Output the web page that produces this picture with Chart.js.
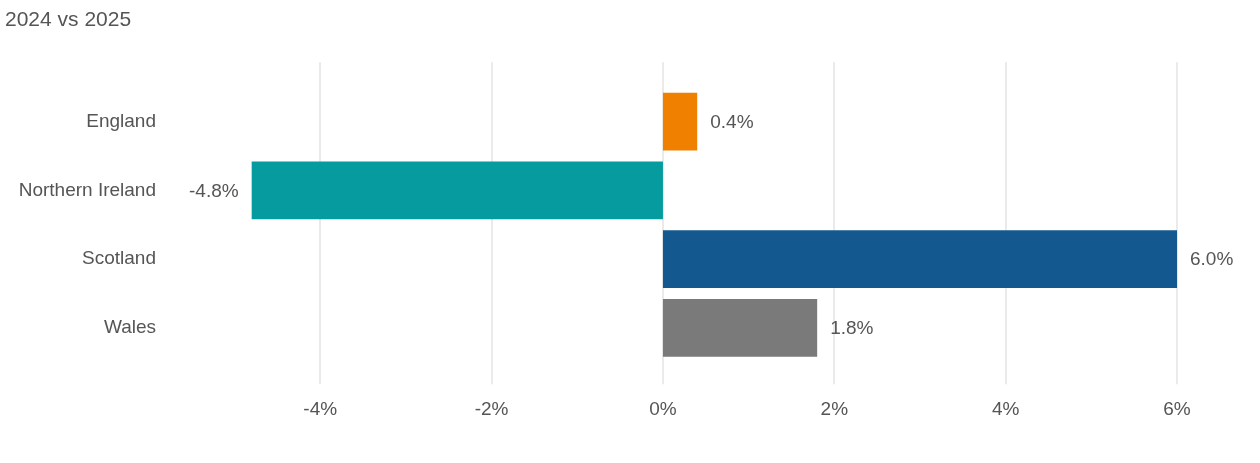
<!DOCTYPE html>
<html><head><meta charset="utf-8">
<script src="https://cdn.jsdelivr.net/npm/chart.js@4"></script>
<style>html,body{margin:0;padding:0;background:#fff}#w{width:1260px;height:463px}</style>
</head><body><div id="w"><canvas id="c"></canvas></div>
<script>
const categories = ["England","Northern Ireland","Scotland","Wales"];
const values = [0.4,-4.8,6.0,1.8];
const colors = ["#F08000","#069C9F","#13588E","#7A7A7A"];
const tickValues = [-4,-2,0,2,4,6];
const FONT = "'Liberation Sans', Arial, sans-serif";
const gridPlugin = {
  id:'grd',
  beforeDatasetsDraw(chart){
    const ctx=chart.ctx, x=chart.scales.x, a=chart.chartArea;
    ctx.save(); ctx.strokeStyle='#e3e3e3'; ctx.lineWidth=1.5;
    tickValues.forEach(v=>{const px=Math.round(x.getPixelForValue(v));
      ctx.beginPath();ctx.moveTo(px,a.top-25);ctx.lineTo(px,a.bottom+22);ctx.stroke();});
    ctx.restore();
  }
};
const labelPlugin = {
  id:'lbl',
  afterDatasetsDraw(chart){
    const ctx=chart.ctx, meta=chart.getDatasetMeta(0);
    ctx.save(); ctx.font="19px "+FONT; ctx.fillStyle="#555"; ctx.textBaseline="middle";
    meta.data.forEach((b,i)=>{
      const v=values[i], t=v.toFixed(1)+"%";
      if(v>=0){ctx.textAlign="left";ctx.fillText(t,b.x+13,b.y+1);}
      else{ctx.textAlign="right";ctx.fillText(t,b.x-13,b.y+1);}
    });
    ctx.restore();
  }
};
new Chart(document.getElementById('c'),{
  type:'bar',
  data:{labels:categories,datasets:[{data:values,backgroundColor:colors,barPercentage:0.84,categoryPercentage:1}]},
  options:{
    indexAxis:'y',responsive:true,maintainAspectRatio:false,animation:false,
    layout:{padding:{left:5,right:23,top:0,bottom:6}},
    plugins:{legend:{display:false},tooltip:{enabled:false},
      title:{display:true,text:"2024 vs 2025",align:'start',color:'#555',font:{family:FONT,size:21,weight:'normal'},padding:{top:8,bottom:54}}},
    scales:{
      x:{min:-5.8,max:6.7,afterBuildTicks(s){s.ticks=tickValues.map(v=>({value:v}));},
        grid:{display:false,drawTicks:false},border:{display:false},
        ticks:{padding:36,color:'#555',font:{family:FONT,size:19},callback:v=>v+"%"}},
      y:{afterFit(s){s.width=161;},grid:{display:false},border:{display:false},
        ticks:{padding:2,color:'#555',font:{family:FONT,size:19}}}
    }
  },
  plugins:[gridPlugin,labelPlugin]
});
</script></body></html>
